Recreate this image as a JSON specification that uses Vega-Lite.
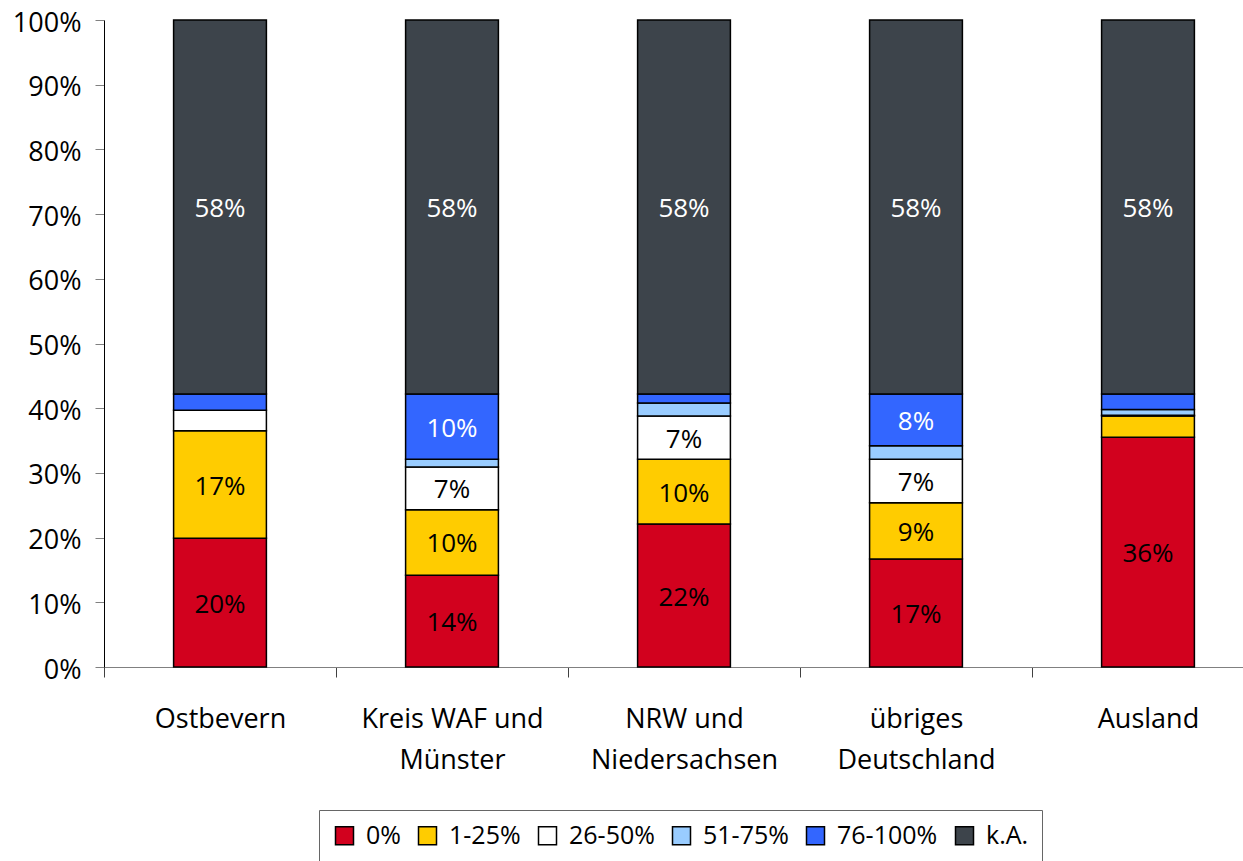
{
  "$schema": "https://vega.github.io/schema/vega-lite/v6.json",
  "autosize": "none",
  "width": 1160,
  "height": 647,
  "padding": {"left": 104, "top": 20, "right": 0, "bottom": 200},
  "background": "white",
  "config": {
    "font": "Open Sans",
    "view": {"stroke": null},
    "axis": {"labelFont": "Open Sans", "labelFontSize": 27, "labelColor": "black", "grid": false, "title": null}
  },
  "data": {
    "values": [
      {"region": "Ostbevern", "cat": "0%", "o": 1, "v": 0.199},
      {"region": "Ostbevern", "cat": "1-25%", "o": 2, "v": 0.166},
      {"region": "Ostbevern", "cat": "26-50%", "o": 3, "v": 0.032},
      {"region": "Ostbevern", "cat": "51-75%", "o": 4, "v": 0.0},
      {"region": "Ostbevern", "cat": "76-100%", "o": 5, "v": 0.025},
      {"region": "Ostbevern", "cat": "k.A.", "o": 6, "v": 0.578},
      {"region": "Kreis WAF und\nMünster", "cat": "0%", "o": 1, "v": 0.142},
      {"region": "Kreis WAF und\nMünster", "cat": "1-25%", "o": 2, "v": 0.101},
      {"region": "Kreis WAF und\nMünster", "cat": "26-50%", "o": 3, "v": 0.066},
      {"region": "Kreis WAF und\nMünster", "cat": "51-75%", "o": 4, "v": 0.012},
      {"region": "Kreis WAF und\nMünster", "cat": "76-100%", "o": 5, "v": 0.101},
      {"region": "Kreis WAF und\nMünster", "cat": "k.A.", "o": 6, "v": 0.578},
      {"region": "NRW und\nNiedersachsen", "cat": "0%", "o": 1, "v": 0.221},
      {"region": "NRW und\nNiedersachsen", "cat": "1-25%", "o": 2, "v": 0.100},
      {"region": "NRW und\nNiedersachsen", "cat": "26-50%", "o": 3, "v": 0.067},
      {"region": "NRW und\nNiedersachsen", "cat": "51-75%", "o": 4, "v": 0.020},
      {"region": "NRW und\nNiedersachsen", "cat": "76-100%", "o": 5, "v": 0.014},
      {"region": "NRW und\nNiedersachsen", "cat": "k.A.", "o": 6, "v": 0.578},
      {"region": "übriges\nDeutschland", "cat": "0%", "o": 1, "v": 0.167},
      {"region": "übriges\nDeutschland", "cat": "1-25%", "o": 2, "v": 0.087},
      {"region": "übriges\nDeutschland", "cat": "26-50%", "o": 3, "v": 0.067},
      {"region": "übriges\nDeutschland", "cat": "51-75%", "o": 4, "v": 0.021},
      {"region": "übriges\nDeutschland", "cat": "76-100%", "o": 5, "v": 0.080},
      {"region": "übriges\nDeutschland", "cat": "k.A.", "o": 6, "v": 0.578},
      {"region": "Ausland", "cat": "0%", "o": 1, "v": 0.355},
      {"region": "Ausland", "cat": "1-25%", "o": 2, "v": 0.033},
      {"region": "Ausland", "cat": "26-50%", "o": 3, "v": 0.001},
      {"region": "Ausland", "cat": "51-75%", "o": 4, "v": 0.009},
      {"region": "Ausland", "cat": "76-100%", "o": 5, "v": 0.024},
      {"region": "Ausland", "cat": "k.A.", "o": 6, "v": 0.578}
    ]
  },
  "encoding": {
    "x": {
      "field": "region",
      "type": "nominal",
      "sort": null,
      "scale": {"paddingInner": 0, "paddingOuter": 0},
      "axis": {
        "labelAngle": 0,
        "tickBand": "extent",
        "tickSize": 10,
        "tickColor": "#404040",
        "domainColor": "#808080",
        "labelPadding": 29,
        "labelLineHeight": 41,
        "labelLimit": 400,
        "labelExpr": "split(datum.label, '\\n')"
      }
    }
  },
  "layer": [
    {
      "mark": {"type": "bar", "width": {"band": 0.4}, "stroke": "black", "strokeWidth": 1.5},
      "encoding": {
        "y": {
          "field": "v",
          "type": "quantitative",
          "stack": "normalize",
          "scale": {"domain": [0, 1]},
          "axis": {
            "format": ".0%",
            "values": [0, 0.1, 0.2, 0.3, 0.4, 0.5, 0.6, 0.7, 0.8, 0.9, 1],
            "tickSize": 9,
            "tickColor": "#808080",
            "domainColor": "black",
            "labelPadding": 14,
            "labelOffset": 3
          }
        },
        "order": {"field": "o", "type": "quantitative"},
        "color": {
          "field": "cat",
          "type": "nominal",
          "scale": {
            "domain": ["0%", "1-25%", "26-50%", "51-75%", "76-100%", "k.A."],
            "range": ["#D2011E", "#FFCC00", "#FFFFFF", "#99CCFF", "#3366FF", "#3D444B"]
          },
          "legend": {
            "title": null,
            "orient": "none",
            "legendX": 215,
            "legendY": 790,
            "direction": "horizontal",
            "columns": 6,
            "symbolType": "square",
            "symbolSize": 324,
            "symbolStrokeColor": "black",
            "symbolStrokeWidth": 1.5,
            "labelFont": "Open Sans",
            "labelFontSize": 25,
            "labelColor": "black",
            "labelOffset": 9,
            "columnPadding": 14,
            "padding": 13,
            "strokeColor": "#666666",
            "fillColor": "white",
            "labelLimit": 300
          }
        }
      }
    },
    {
      "mark": {"type": "text", "font": "Open Sans", "fontSize": 26, "baseline": "middle", "align": "center", "dy": 2},
      "encoding": {
        "y": {"field": "v", "type": "quantitative", "stack": "normalize", "bandPosition": 0.5},
        "order": {"field": "o", "type": "quantitative"},
        "text": {
          "condition": {"test": "datum.v < 0.065", "value": ""},
          "field": "v",
          "type": "quantitative",
          "format": ".0%"
        },
        "color": {
          "condition": {"test": "datum.cat === 'k.A.' || datum.cat === '76-100%'", "value": "white"},
          "value": "black"
        }
      }
    }
  ]
}
